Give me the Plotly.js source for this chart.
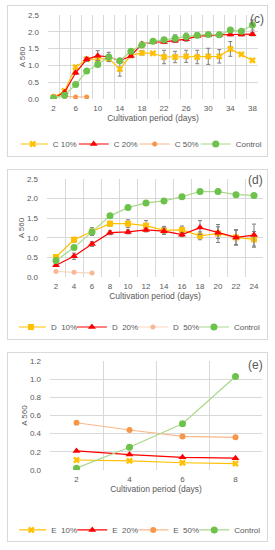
<!DOCTYPE html>
<html>
<head>
<meta charset="utf-8">
<script src="https://cdn.plot.ly/plotly-3.0.1.min.js"></script>
<style>
  html, body { margin: 0; padding: 0; background: #ffffff; }
  body { width: 275px; height: 550px; position: relative; overflow: hidden; }
  .box { position: absolute; left: 7px; width: 259px; border: 1px solid #D9D9D9; background: #fff; }
  .plot { position: absolute; left: 0; width: 275px; }
</style>
</head>
<body>
<div class="box" style="top:5px;height:150px;"></div>
<div class="box" style="top:169px;height:169px;"></div>
<div class="box" style="top:352px;height:188px;"></div>
<div id="pc" class="plot" style="top:5px;height:152px;"></div>
<div id="pd" class="plot" style="top:169px;height:171px;"></div>
<div id="pe" class="plot" style="top:352px;height:190px;"></div>
<script>
// ---------- Panel (c) ----------
const cDays = [2,4,6,8,10,12,14,16,18,20,22,24,26,28,30,32,34,36,38];
const cTicks = [2,6,10,14,18,22,26,30,34,38];
const c10 = [0.05,0.24,0.95,1.18,1.19,1.20,0.89,1.30,1.37,1.36,1.25,1.25,1.27,1.25,1.27,1.27,1.49,1.33,1.15];
const c10Err = [0,0.03,0.05,0.05,0.05,0.06,0.21,0.05,0.06,0.03,0.20,0.17,0.18,0.20,0.24,0.20,0.22,0.03,0.03];
const c20 = [0.02,0.20,0.78,1.18,1.29,1.25,1.14,1.28,1.64,1.69,1.70,1.73,1.78,1.87,1.90,1.91,1.92,1.92,1.93];
const c20Err = [0,0.03,0.05,0.06,0.15,0.05,0.05,0.05,0.05,0.04,0.05,0.05,0.06,0.05,0.04,0.05,0.04,0.04,0.05];
const c50Days = [2,4,6,8];
const c50 = [0.08,0.07,0.06,0.06];
const cCtrl = [0.02,0.11,0.43,0.83,1.03,1.25,1.14,1.42,1.61,1.72,1.76,1.81,1.86,1.90,1.92,1.91,2.05,2.02,2.20];
const cCtrlErr = [0,0.02,0.03,0.03,0.04,0.14,0.03,0.04,0.04,0.04,0.06,0.1,0.1,0.05,0.04,0.07,0.04,0.04,0.15];
const cNames = ['C 10%','C 20%','C 50%','Control'];

// ---------- Panel (d) ----------
const dDays = [2,4,6,8,10,12,14,16,18,20,22,24];
const dTicks = [2,4,6,8,10,12,14,16,18,20,22,24];
const d10 = [0.51,0.95,1.16,1.36,1.36,1.31,1.19,1.20,1.05,1.11,1.01,0.96];
const d10Err = [0.04,0.06,0.10,0.06,0.10,0.13,0.10,0.10,0.10,0.23,0.18,0.20];
const d20 = [0.30,0.53,0.84,1.13,1.15,1.20,1.17,1.08,1.26,1.13,1.01,1.07];
const d20Err = [0.03,0.08,0.06,0.05,0.05,0.05,0.08,0.05,0.18,0.15,0.20,0.28];
const d50Days = [2,4,6];
const d50 = [0.14,0.12,0.10];
const dCtrl = [0.42,0.75,1.15,1.56,1.77,1.89,1.94,2.05,2.18,2.18,2.10,2.08];
const dCtrlErr = [0.02,0.02,0.03,0.03,0.02,0.02,0.02,0.02,0.05,0.03,0.05,0.03];
const dNames = ['D  10%','D  20%','D  50%','Control'];

// ---------- Panel (e) ----------
const eDays = [2,4,6,8];
const eTicks = [2,4,6,8];
const e10 = [0.11,0.10,0.08,0.07];
const e20 = [0.21,0.17,0.14,0.13];
const e50 = [0.52,0.44,0.37,0.36];
const eCtrl = [0.02,0.25,0.51,1.03];
const eNames = ['E  10%','E  20%','E  50%','Control'];

// ---------- styles ----------
const FONT = 'Liberation Sans, Arial, sans-serif';
const GRID = '#D9D9D9';
const TXT = '#595959';
const YEL = '#FFC000', RED = '#FF0000', ORA = '#F79646', ORAL = '#F8B88B', GRN = '#6CC24A', GRNL = '#A9D98A';
const ORA2 = '#F8B893', ORA2L = '#FBD3BB';

function errCfg(arr) {
  return {type:'data', array:arr, visible:true, color:'#7F7F7F', thickness:1, width:2};
}
function tr(x, y, name, lineColor, markerColor, symbol, size, err) {
  const t = {x:x, y:y, name:name, type:'scatter', mode:'lines+markers',
    line:{color:lineColor, width:1.2},
    marker:{color:markerColor, symbol:symbol, size:size, line:{width:0}}};
  if (err) t.error_y = errCfg(err);
  return t;
}
function layout(opts) {
  return {
    width:275, height:opts.h,
    margin:{l:opts.l, r:opts.r, t:opts.t, b:opts.b, autoexpand:false},
    paper_bgcolor:'rgba(0,0,0,0)', plot_bgcolor:'rgba(0,0,0,0)',
    font:{family:FONT, size:8, color:TXT},
    showlegend:true,
    legend:{orientation:'h', x:opts.lx, xanchor:'left', y:opts.ly, yanchor:'middle',
            font:{family:FONT, size:8, color:TXT}, bgcolor:'rgba(0,0,0,0)', traceorder:'normal',
            itemwidth:30, entrywidth:24, indentation:-8},
    xaxis:{type:'linear', range:opts.xr, tickvals:opts.ticks, ticktext:opts.ticks.map(String),
           showgrid:false, zeroline:false, showline:false, ticks:'', ticklabelstandoff:3,
           tickfont:{family:FONT, size:8, color:TXT},
           minor:{tick0:1, dtick:2, showgrid:true, gridcolor:GRID, gridwidth:1, ticks:''},
           title:{text:'Cultivation period (days)', font:{family:FONT, size:8.5, color:TXT}, standoff:0},
           fixedrange:true},
    yaxis:{range:opts.yr, dtick:opts.dy, tickformat:'.1f', showgrid:true, gridcolor:GRID, gridwidth:1,
           zeroline:false, showline:false, ticks:'', ticklabelstandoff:8,
           tickfont:{family:FONT, size:8, color:TXT},
           title:{text:'A 560', font:{family:FONT, size:8, color:TXT}, standoff:1},
           fixedrange:true},
    annotations:[{text:opts.tag, xref:'paper', yref:'paper', x:opts.tx, y:opts.ty, xanchor:'right', yanchor:'middle',
                  showarrow:false, font:{family:FONT, size:12, color:TXT}}]
  };
}
const cfg = {displayModeBar:false, staticPlot:true};

Plotly.newPlot('pc', [
  tr(cDays, c10, cNames[0], YEL, YEL, 'x', 6, c10Err),
  tr(cDays, c20, cNames[1], RED, RED, 'triangle-up', 7, c20Err),
  tr(c50Days, c50, cNames[2], ORAL, ORA, 'circle', 5, null),
  tr(cDays, cCtrl, cNames[3], GRNL, GRN, 'circle', 7, cCtrlErr)
], layout({h:152, l:48, r:17, t:10, b:58, xr:[1,39], ticks:cTicks, yr:[0,2.5], dy:0.5,
           lx:-0.13, ly:-0.536, tag:'(c)', tx:1.04, ty:0.95}), cfg);

Plotly.newPlot('pd', [
  tr(dDays, d10, dNames[0], YEL, YEL, 'square', 6, d10Err),
  tr(dDays, d20, dNames[1], RED, RED, 'triangle-up', 7, d20Err),
  tr(d50Days, d50, dNames[2], ORA2L, ORA2, 'circle', 5, null),
  tr(dDays, dCtrl, dNames[3], GRNL, GRN, 'circle', 7, dCtrlErr)
], layout({h:171, l:47, r:12, t:10, b:63, xr:[1,25], ticks:dTicks, yr:[0,2.5], dy:0.5,
           lx:-0.13, ly:-0.51, tag:'(d)', tx:1.01, ty:0.99}), cfg);

Plotly.newPlot('pe', [
  tr(eDays, e10, eNames[0], YEL, YEL, 'x', 6, null),
  tr(eDays, e20, eNames[1], RED, RED, 'triangle-up', 7, null),
  tr(eDays, e50, eNames[2], ORAL, ORA, 'circle', 6, null),
  tr(eDays, eCtrl, eNames[3], GRNL, GRN, 'circle', 7, null)
], layout({h:190, l:50, r:13, t:9, b:72, xr:[1,9], ticks:eTicks, yr:[0,1.2], dy:0.2,
           lx:-0.145, ly:-0.55, tag:'(e)', tx:1.015, ty:0.965}), cfg);
</script>
</body>
</html>
